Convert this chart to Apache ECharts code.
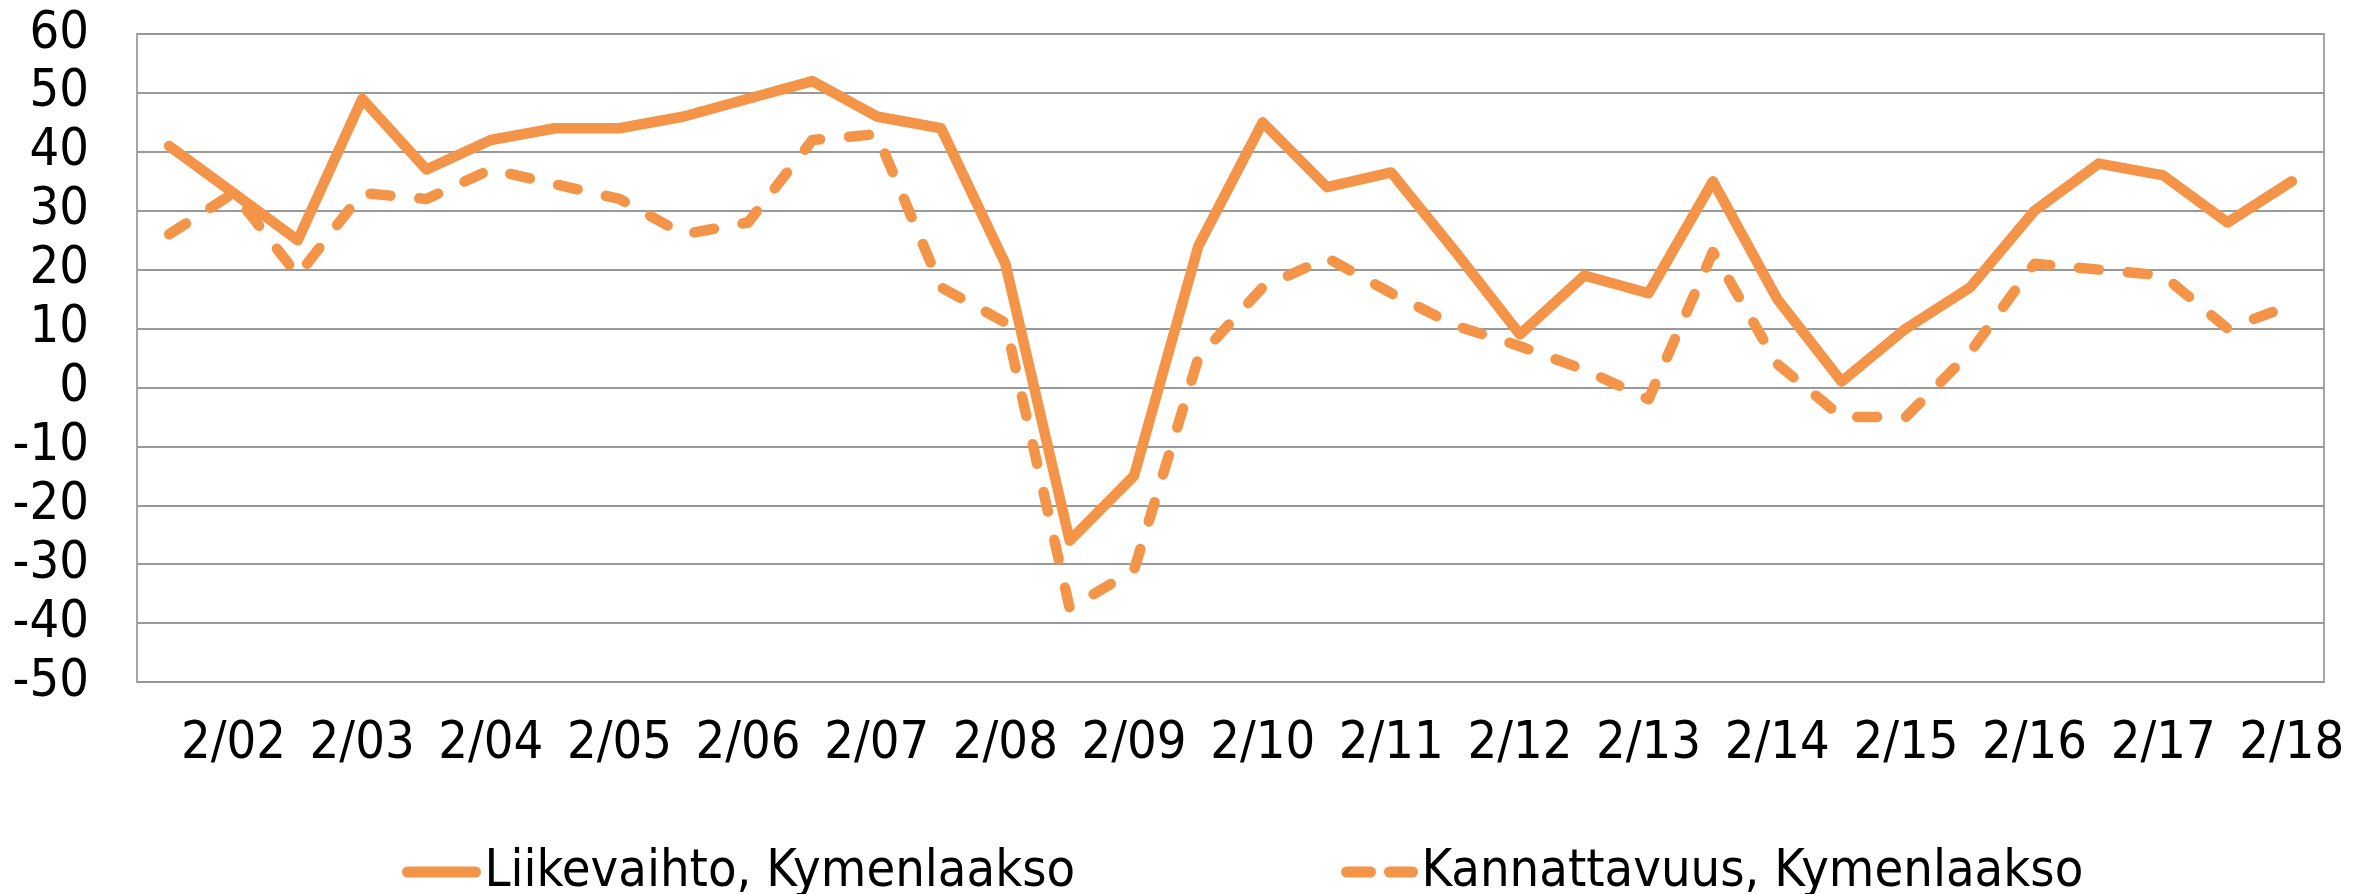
<!DOCTYPE html>
<html>
<head>
<meta charset="utf-8">
<script src="https://cdn.jsdelivr.net/npm/echarts@6/dist/echarts.min.js"></script>
<style>
  html, body { margin: 0; padding: 0; background: #fff; }
  #main { width: 2354px; height: 894px; }
</style>
</head>
<body>
<div id="main"></div>
<script>
// half-year periods 1/02 ... 2/18
var categories = ['1/02', '2/02', '1/03', '2/03', '1/04', '2/04', '1/05', '2/05', '1/06', '2/06',
  '1/07', '2/07', '1/08', '2/08', '1/09', '2/09', '1/10', '2/10', '1/11', '2/11',
  '1/12', '2/12', '1/13', '2/13', '1/14', '2/14', '1/15', '2/15', '1/16', '2/16',
  '1/17', '2/17', '1/18', '2/18'];

var liikevaihto = [41, 33, 25, 49, 37, 42, 44, 44, 46, 49,
  52, 46, 44, 21, -26, -15, 24, 45, 34, 36.5,
  23, 9, 19, 16, 35, 15, 1, 10, 17, 30,
  38, 36, 28, 35];

var kannattavuus = [26, 33, 19, 33, 32, 37, 34.5, 32, 26, 28,
  42, 43, 17, 11, -37.5, -31, 5, 17, 22, 16,
  10.5, 7, 3, -2, 23, 4, -5, -5, 6, 21,
  20, 19, 10, 14];

var yTicks = { min: -50, max: 60, step: 10 };

var orange = '#F39448';
var font = '"DejaVu Sans Condensed", "DejaVu Sans"';
var hidden = { color: 'rgba(0,0,0,0)', borderWidth: 0 };

var myChart = echarts.init(document.getElementById('main'));

var option = {
  animation: false,
  backgroundColor: '#fff',
  textStyle: { fontFamily: font },
  grid: {
    left: 137, right: 30, top: 34, bottom: 212,
    show: true, borderColor: '#a6a6a6', borderWidth: 2
  },
  legend: [{
    left: 397, top: 841,
    itemWidth: 68, itemHeight: 14, itemGap: 0,
    itemStyle: hidden,
    lineStyle: { width: 11, cap: 'round' },
    textStyle: { fontSize: 52, color: '#000', fontFamily: font, padding: [0, 0, 0, 4] },
    data: ['Liikevaihto, Kymenlaakso']
  }, {
    left: 1336, top: 841,
    itemWidth: 66, itemHeight: 14, itemGap: 0,
    itemStyle: hidden,
    lineStyle: { width: 11, type: [24, 19], cap: 'round' },
    textStyle: { fontSize: 52, color: '#000', fontFamily: font, padding: [0, 0, 0, 4] },
    data: ['Kannattavuus, Kymenlaakso']
  }],
  xAxis: {
    type: 'category',
    data: categories,
    boundaryGap: true,
    axisLine: { show: false },
    axisTick: { show: false },
    axisLabel: {
      interval: function (index) { return index % 2 === 1; },
      fontSize: 52, color: '#000', margin: 36, fontFamily: font
    },
    splitLine: { show: false }
  },
  yAxis: {
    type: 'value',
    min: yTicks.min, max: yTicks.max, interval: yTicks.step,
    axisLine: { show: false },
    axisTick: { show: false },
    axisLabel: { fontSize: 52, color: '#000', margin: 48, fontFamily: font },
    splitLine: { lineStyle: { color: '#999', width: 2 } }
  },
  series: [{
    name: 'Liikevaihto, Kymenlaakso',
    type: 'line',
    data: liikevaihto,
    symbol: 'none',
    itemStyle: { color: orange },
    lineStyle: { color: orange, width: 10.5, join: 'round', cap: 'round' }
  }, {
    name: 'Kannattavuus, Kymenlaakso',
    type: 'line',
    data: kannattavuus,
    symbol: 'none',
    itemStyle: { color: orange },
    lineStyle: { color: orange, width: 10.5, type: [20, 29], cap: 'round', join: 'round' }
  }]
};

myChart.setOption(option);
window.onresize = function () {
  myChart.resize();
};
</script>
</body>
</html>
